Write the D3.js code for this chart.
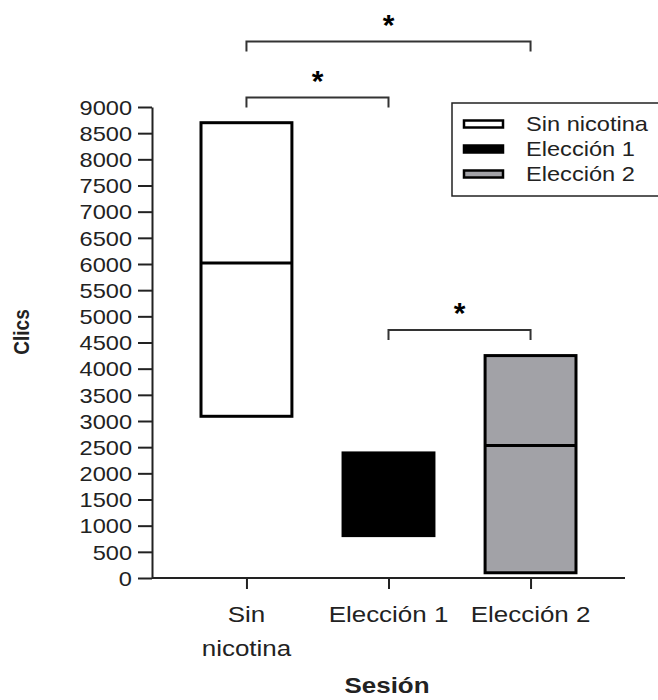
<!DOCTYPE html>
<html>
<head>
<meta charset="utf-8">
<script src="https://cdn.jsdelivr.net/npm/d3@7"></script>
<style>
  body { margin: 0; background: #fff; }
  svg { display: block; font-family: "Liberation Sans", Arial, sans-serif; }
</style>
</head>
<body>
<div id="chart"></div>
<script>
// data
var categories = ['Sin nicotina', 'Elección 1', 'Elección 2']
var catLines = [['Sin', 'nicotina'], ['Elección 1'], ['Elección 2']]
var mins = [3090, 810, 100]
var medians = [6020, 1600, 2530]
var maxs = [8700, 2390, 4250]
var fills = ['#ffffff', '#000000', '#a2a2a7']
var yTicks = [0, 500, 1000, 1500, 2000, 2500, 3000, 3500, 4000, 4500,
  5000, 5500, 6000, 6500, 7000, 7500, 8000, 8500, 9000]
var comparisons = [
  {a: 0, b: 2, level: 10250, label: '*'},
  {a: 0, b: 1, level: 9180, label: '*'},
  {a: 1, b: 2, level: 4740, label: '*'}
]

var width = 658
var height = 700
var sx = 1.18  // the source picture is stretched sideways a bit
var ink = '#222'

var svg = d3.select('#chart').append('svg')
  .attr('width', width).attr('height', height)

var x = d3.scalePoint().domain(categories).range([152, 625]).padding(0.665)
var y = d3.scaleLinear().domain([0, 9000]).range([578, 107])
var boxW = x.step() * 0.64

// y axis
var yAxis = svg.append('g')
  .attr('transform', 'translate(152,0)')
  .call(d3.axisLeft(y).tickValues(yTicks).tickFormat(d3.format('d'))
    .tickSize(14).tickSizeOuter(0).tickPadding(5))
yAxis.select('.domain').attr('stroke', ink).attr('stroke-width', 2)
yAxis.selectAll('.tick line').attr('stroke', ink).attr('stroke-width', 2)
yAxis.selectAll('.tick text')
  .attr('fill', ink).attr('font-size', 20)
  .attr('x', -20 / sx).attr('dy', '0.36em')
  .attr('transform', 'scale(' + sx + ',1)')

// x axis
var xAxis = svg.append('g')
  .attr('transform', 'translate(0,578)')
  .call(d3.axisBottom(x).tickSize(11).tickSizeOuter(0).tickFormat(''))
xAxis.select('.domain').attr('stroke', ink).attr('stroke-width', 2)
  .attr('d', 'M152,0H625')
xAxis.selectAll('.tick line').attr('stroke', ink).attr('stroke-width', 2)

var catSel = svg.selectAll('.cat').data(categories).enter().append('text')
  .attr('class', 'cat')
  .attr('transform', d => 'translate(' + x(d) + ',622) scale(' + sx + ',1)')
  .attr('text-anchor', 'middle').attr('font-size', 22).attr('fill', ink)
catSel.selectAll('tspan').data((d, i) => catLines[i]).enter().append('tspan')
  .attr('x', 0).attr('y', (d, i) => i * 34).text(d => d)

// boxes (min to max, line at median)
var boxes = svg.selectAll('.box').data(categories).enter().append('g')
boxes.append('rect')
  .attr('x', d => x(d) - boxW / 2)
  .attr('y', (d, i) => y(maxs[i]))
  .attr('width', boxW)
  .attr('height', (d, i) => y(mins[i]) - y(maxs[i]))
  .attr('fill', (d, i) => fills[i])
  .attr('stroke', '#000').attr('stroke-width', 3)
boxes.append('line')
  .attr('x1', d => x(d) - boxW / 2).attr('x2', d => x(d) + boxW / 2)
  .attr('y1', (d, i) => y(medians[i])).attr('y2', (d, i) => y(medians[i]))
  .attr('stroke', '#000').attr('stroke-width', 3)

// significance brackets
var br = svg.selectAll('.bracket').data(comparisons).enter().append('g')
br.append('path')
  .attr('d', d => {
    var x1 = x(categories[d.a]), x2 = x(categories[d.b]), yy = y(d.level)
    return 'M' + x1 + ',' + (yy + 10) + 'V' + yy + 'H' + x2 + 'V' + (yy + 10)
  })
  .attr('fill', 'none').attr('stroke', '#333').attr('stroke-width', 2)
br.append('text')
  .attr('x', d => (x(categories[d.a]) + x(categories[d.b])) / 2)
  .attr('y', d => y(d.level) - 7)
  .attr('text-anchor', 'middle').attr('font-size', 30).attr('font-weight', 'bold')
  .attr('fill', '#000')
  .text(d => d.label)

// axis titles
svg.append('text')
  .attr('transform', 'translate(29,332) rotate(-90) scale(1,' + sx + ')')
  .attr('text-anchor', 'middle').attr('font-size', 19).attr('font-weight', 'bold')
  .attr('fill', ink).text('Clics')
svg.append('text')
  .attr('transform', 'translate(387,693) scale(' + sx + ',1)')
  .attr('text-anchor', 'middle').attr('font-size', 22).attr('font-weight', 'bold')
  .attr('fill', ink).text('Sesión')

// legend
var legend = svg.append('g').attr('transform', 'translate(452,103)')
legend.append('rect')
  .attr('width', 230).attr('height', 93)
  .attr('fill', '#fff').attr('stroke', '#222').attr('stroke-width', 1.5)
var li = legend.selectAll('.li').data(categories).enter().append('g')
  .attr('transform', (d, i) => 'translate(0,' + (21 + i * 25) + ')')
li.append('rect')
  .attr('x', 12).attr('y', -3.5).attr('width', 39).attr('height', 7)
  .attr('fill', (d, i) => fills[i])
  .attr('stroke', '#000').attr('stroke-width', 2.5)
li.append('text')
  .attr('transform', 'translate(74,7) scale(' + sx + ',1)')
  .attr('font-size', 20).attr('fill', ink)
  .text(d => d)
</script>
</body>
</html>
